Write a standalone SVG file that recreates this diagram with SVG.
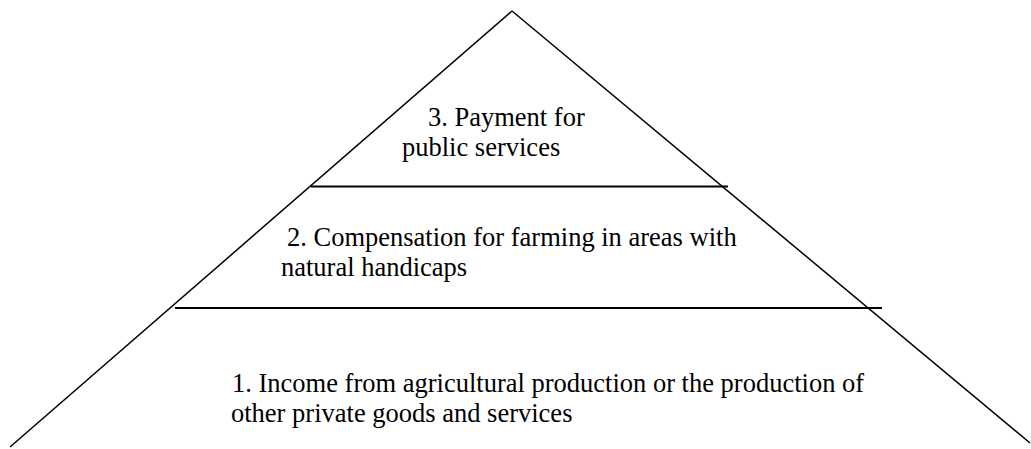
<svg xmlns="http://www.w3.org/2000/svg" width="1031" height="449" viewBox="0 0 1031 449">
<style>
.t{font-family:"Liberation Serif","Times New Roman",serif;font-size:26.5px;fill:#000}
.l{stroke:#000;stroke-width:1.5;fill:none}
.h{stroke:#000;stroke-width:2;fill:none}
</style>
<rect width="1031" height="449" fill="#fff"/>
<g id="connectors">
<line class="l" x1="512" y1="11" x2="10" y2="447"/>
<line class="l" x1="512" y1="11" x2="1030" y2="443"/>
<line class="h" x1="311" y1="186.5" x2="728" y2="186.5"/>
<line class="h" x1="175" y1="308" x2="882" y2="308"/>
</g>
<g id="tier3">
<text class="t" x="428" y="126">3. Payment for</text>
<text class="t" x="402" y="156">public services</text>
</g>
<g id="tier2">
<text class="t" x="287" y="246">2. Compensation for farming in areas with</text>
<text class="t" x="281" y="276">natural handicaps</text>
</g>
<g id="tier1">
<text class="t" x="232" y="392">1. Income from agricultural production or the production of</text>
<text class="t" x="231" y="422">other private goods and services</text>
</g>
</svg>
